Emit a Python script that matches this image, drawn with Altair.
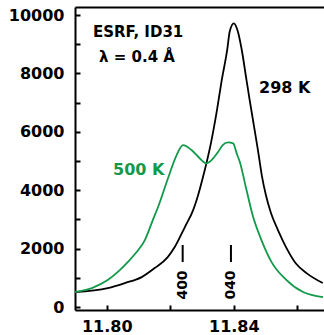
import json
import altair as alt
import pandas as pd

# ---- data ----
black_x = [11.7899, 11.8003, 11.8057, 11.8110, 11.8151, 11.8192, 11.8214, 11.8246,
           11.8272, 11.8283, 11.8303, 11.8328, 11.8347, 11.8361, 11.8380, 11.8387,
           11.8400, 11.8413, 11.8424, 11.8440, 11.8450, 11.8463, 11.8476, 11.8488,
           11.8501, 11.8517, 11.8539, 11.8566, 11.8597, 11.8629, 11.8680]
black_y = [514, 651, 822, 1027, 1336, 1712, 2055, 2740,
           3322, 3664, 4452, 5616, 6747, 7705, 8870, 9428,
           9716, 9428, 8870, 7774, 7089, 6233, 5377, 4521,
           3836, 3219, 2637, 2021, 1473, 1164, 822]

green_x = [11.7899, 11.7953, 11.8003, 11.8041, 11.8066, 11.8094, 11.8120, 11.8145,
           11.8161, 11.8192, 11.8220, 11.8240, 11.8267, 11.8288, 11.8314, 11.8351,
           11.8365, 11.8382, 11.8398, 11.8409, 11.8419, 11.8440, 11.8461, 11.8487,
           11.8519, 11.8566, 11.8618, 11.8681]
green_y = [514, 651, 925, 1267, 1541, 1884, 2295, 2979,
           3408, 4384, 5205, 5548, 5377, 5147, 4921, 5318,
           5548, 5640, 5606, 5263, 4966, 4007, 3082, 2295,
           1541, 925, 514, 342]

series_names = ["298 K", "500 K"]
y_ticks = list(range(0, 10001, 1000))
x_ticks = [11.80, 11.82, 11.84, 11.86]
x_labels = ["11.80", "11.84"]
peak_pos = [11.8239, 11.8391]
peak_lab = ["400", "040"]

GREEN = "#12994a"
FONT = "DejaVu Sans"

df = pd.concat([
    pd.DataFrame({"x": black_x, "y": black_y, "s": series_names[0]}),
    pd.DataFrame({"x": green_x, "y": green_y, "s": series_names[1]}),
])
peaks = pd.DataFrame({"pos": peak_pos, "lab": peak_lab})
one = pd.DataFrame({"a": [0]})

xscale = alt.Scale(domain=[11.79, 11.8684], nice=False, zero=False)
yscale = alt.Scale(domain=[-100, 10275], nice=False, zero=False)

# tick axes (ticks pointing inward)
x_tick_axis = alt.Axis(orient="bottom", offset=-5, values=x_ticks, tickSize=5, tickWidth=2,
                       tickColor="black", domain=False, grid=False, format=".2f",
                       labelExpr="indexof(" + json.dumps(x_labels) + ", datum.label) >= 0 ? datum.label : ''",
                       labelFont=FONT, labelFontSize=16, labelFontWeight="bold",
                       labelColor="black", labelPadding=8,
                       labelOverlap=False, labelBound=False, labelFlush=False, title=None)
y_tick_axis = alt.Axis(orient="left", offset=-5, values=y_ticks, tickSize=5, tickWidth=2,
                       tickColor="black", domain=False, grid=False, format="d",
                       labelExpr="datum.value % 2000 == 0 ? datum.label : ''",
                       labelFont=FONT, labelFontSize=16, labelFontWeight="bold",
                       labelColor="black", labelPadding=11,
                       labelOverlap=False, labelBound=False, labelFlush=False, title=None)
# frame axes (domain lines only)
def frame_axis(orient):
    return alt.Axis(orient=orient, domain=True, domainColor="black", domainWidth=2,
                    ticks=False, labels=False, grid=False, title=None)

frame1 = alt.Chart(df).mark_point(opacity=0).encode(
    x=alt.X("x:Q", scale=xscale, axis=frame_axis("bottom")),
    y=alt.Y("y:Q", scale=yscale, axis=frame_axis("left")),
)
frame2 = alt.Chart(df).mark_point(opacity=0).encode(
    x=alt.X("x:Q", scale=xscale, axis=frame_axis("top")),
    y=alt.Y("y:Q", scale=yscale, axis=None),
)

lines = alt.Chart(df).mark_line(strokeWidth=1.8, clip=True, interpolate="monotone").encode(
    x=alt.X("x:Q", scale=xscale, axis=x_tick_axis),
    y=alt.Y("y:Q", scale=yscale, axis=y_tick_axis),
    color=alt.Color("s:N", scale=alt.Scale(domain=series_names, range=["black", GREEN]), legend=None),
    detail="s:N",
)

bars = alt.Chart(peaks).mark_rule(strokeWidth=2, color="black").encode(
    x=alt.X("pos:Q", scale=xscale, axis=None),
    y=alt.value(238), y2=alt.value(255),
)
peak_text = alt.Chart(peaks).mark_text(angle=270, font=FONT, fontSize=14, fontWeight="bold",
                                       color="black", align="center", baseline="middle").encode(
    x=alt.X("pos:Q", scale=xscale, axis=None),
    y=alt.value(278),
    text="lab:N",
)

def label(txt, px, py, size, weight="normal", color="black"):
    return alt.Chart(one).mark_text(text=txt, font=FONT, fontSize=size, fontWeight=weight,
                                    color=color, align="left", baseline="alphabetic").encode(
        x=alt.value(px), y=alt.value(py))

texts = [
    label("ESRF, ID31", 18, 30, 15, "bold"),
    label("λ = 0.4 Å", 24, 55, 15, "bold"),
    label("298 K", 184, 86, 16, "bold"),
    label("500 K", 38, 168, 16, "bold", color=GREEN),
]

chart = alt.layer(frame1, frame2, lines, bars, peak_text, *texts).resolve_axis(
    x="independent", y="independent"
).properties(
    width=249, height=303,
    autosize=alt.AutoSizeParams(type="none"),
    padding={"left": 75, "top": 7, "right": 0, "bottom": 25},
).configure_view(stroke=None).configure(background="white")

chart.save("out.html", embed_options={"renderer": "svg", "actions": False})
